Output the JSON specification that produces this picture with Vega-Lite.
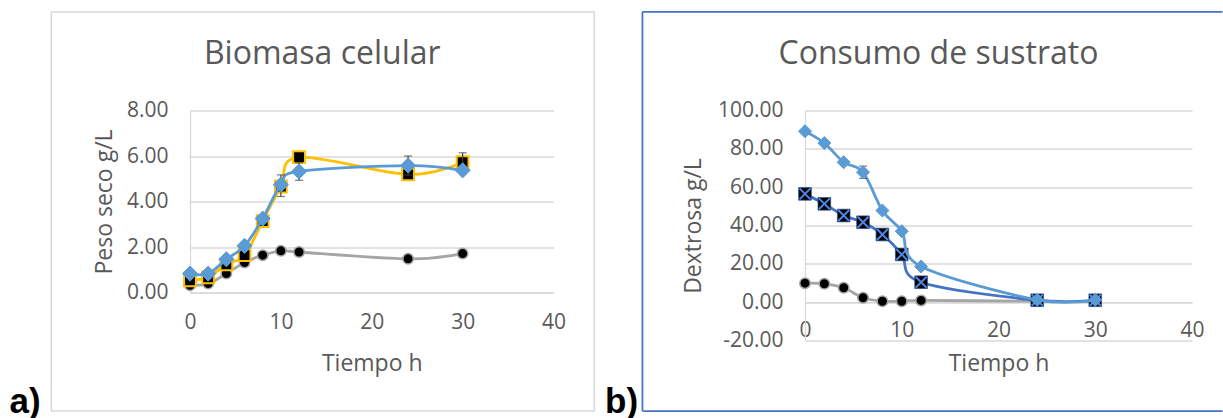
{
  "$schema": "https://vega.github.io/schema/vega-lite/v6.json",
  "background": "white",
  "padding": {"left": 9, "top": 10.5, "right": 0, "bottom": 0},
  "bounds": "flush",
  "spacing": 251,
  "config": {
    "view": {"stroke": null},
    "axis": {
      "labelFont": "Open Sans", "labelFontSize": 21, "labelColor": "#595959",
      "titleFont": "Open Sans", "titleFontSize": 23, "titleFontWeight": "normal", "titleColor": "#595959",
      "ticks": false,
      "domainColor": "#D9D9D9", "domainWidth": 1.3,
      "gridColor": "#D9D9D9", "gridWidth": 1.3,
      "labelFlush": false, "labelOverlap": false
    },
    "title": {"font": "Open Sans", "fontSize": 32, "fontWeight": "normal", "color": "#595959"}
  },
  "datasets": {
    "bio": [
      {"t": 0, "s": "S1", "v": 0.32}, {"t": 2, "s": "S1", "v": 0.39}, {"t": 4, "s": "S1", "v": 0.83},
      {"t": 6, "s": "S1", "v": 1.32}, {"t": 8, "s": "S1", "v": 1.64}, {"t": 10, "s": "S1", "v": 1.83},
      {"t": 12, "s": "S1", "v": 1.78}, {"t": 24, "s": "S1", "v": 1.48}, {"t": 30, "s": "S1", "v": 1.71},
      {"t": 0, "s": "S2", "v": 0.54}, {"t": 2, "s": "S2", "v": 0.67}, {"t": 4, "s": "S2", "v": 1.24},
      {"t": 6, "s": "S2", "v": 1.64}, {"t": 8, "s": "S2", "v": 3.14}, {"t": 10, "s": "S2", "v": 4.66},
      {"t": 12, "s": "S2", "v": 5.95}, {"t": 24, "s": "S2", "v": 5.19}, {"t": 30, "s": "S2", "v": 5.73},
      {"t": 0, "s": "S3", "v": 0.83}, {"t": 2, "s": "S3", "v": 0.83}, {"t": 4, "s": "S3", "v": 1.46},
      {"t": 6, "s": "S3", "v": 2.05}, {"t": 8, "s": "S3", "v": 3.25}, {"t": 10, "s": "S3", "v": 4.74},
      {"t": 12, "s": "S3", "v": 5.32}, {"t": 24, "s": "S3", "v": 5.58}, {"t": 30, "s": "S3", "v": 5.37}
    ],
    "bioerr": [
      {"t": 10, "s": "S2", "lo": 4.22, "hi": 5.17},
      {"t": 12, "s": "S3", "lo": 4.93, "hi": 5.71},
      {"t": 24, "s": "S3", "lo": 5.16, "hi": 6.0},
      {"t": 30, "s": "S2", "lo": 5.32, "hi": 6.14}
    ],
    "sus": [
      {"t": 0, "s": "G", "v": 9.9}, {"t": 2, "s": "G", "v": 9.6}, {"t": 4, "s": "G", "v": 7.5},
      {"t": 6, "s": "G", "v": 2.3}, {"t": 8, "s": "G", "v": 0.5}, {"t": 10, "s": "G", "v": 0.5},
      {"t": 12, "s": "G", "v": 0.9}, {"t": 24, "s": "G", "v": 0.5},
      {"t": 0, "s": "D", "v": 56.5}, {"t": 2, "s": "D", "v": 51.3}, {"t": 4, "s": "D", "v": 45.2},
      {"t": 6, "s": "D", "v": 41.7}, {"t": 8, "s": "D", "v": 35.3}, {"t": 10, "s": "D", "v": 24.9},
      {"t": 12, "s": "D", "v": 10.4}, {"t": 24, "s": "D", "v": 1.0}, {"t": 30, "s": "D", "v": 1.0},
      {"t": 0, "s": "L", "v": 89.2}, {"t": 2, "s": "L", "v": 83.0}, {"t": 4, "s": "L", "v": 73.0},
      {"t": 6, "s": "L", "v": 67.8}, {"t": 8, "s": "L", "v": 47.8}, {"t": 10, "s": "L", "v": 37.0},
      {"t": 12, "s": "L", "v": 18.6}, {"t": 24, "s": "L", "v": 1.2}, {"t": 30, "s": "L", "v": 1.2}
    ],
    "suserr": [
      {"t": 6, "s": "L", "lo": 64.6, "hi": 71.0}
    ]
  },
  "hconcat": [
    {
      "width": 363.5,
      "height": 182,
      "title": {"text": "Biomasa celular", "anchor": "middle", "frame": "group", "dx": -49.5, "baseline": "alphabetic", "offset": -85},
      "data": {"name": "bio"},
      "layer": [
        {
          "data": {"values": [{"k": 1}]},
          "mark": {"type": "rect", "fill": "transparent", "stroke": "#D9D9D9", "strokeWidth": 1.5, "clip": false},
          "encoding": {
            "x": {"datum": -15.26, "type": "quantitative", "scale": {"domain": [0, 40], "nice": false, "zero": false}},
            "x2": {"datum": 44.48},
            "y": {"datum": 12.33, "type": "quantitative", "scale": {"domain": [0, 8], "nice": false, "zero": false}},
            "y2": {"datum": -5.21}
          }
        },
        {
          "data": {"values": [{"k": 1}]},
          "mark": {"type": "text", "text": "a)", "font": "Liberation Sans", "fontWeight": "bold", "fontSize": 35, "align": "left", "baseline": "alphabetic", "color": "black", "clip": false},
          "encoding": {
            "x": {"datum": -19.86, "type": "quantitative"},
            "y": {"datum": -5.3, "type": "quantitative"}
          }
        },
        {
          "transform": [{"filter": "datum.s === 'S1'"}],
          "mark": {"type": "line", "interpolate": "cardinal", "color": "#A5A5A5", "strokeWidth": 2.8},
          "encoding": {
            "x": {"field": "t", "type": "quantitative", "scale": {"domain": [0, 40], "nice": false, "zero": false},
                  "axis": {"values": [0, 10, 20, 30, 40], "tickCount": 10, "title": "Tiempo h", "grid": false, "labelPadding": 19, "titlePadding": 20, "labelOverlap": false}},
            "y": {"field": "v", "type": "quantitative", "scale": {"domain": [0, 8], "nice": false, "zero": false},
                  "axis": {"values": [0, 2, 4, 6, 8], "tickCount": 10, "format": ".2f", "title": "Peso seco g/L", "grid": true, "labelPadding": 22, "titlePadding": 10, "labelOverlap": false}}
          }
        },
        {
          "transform": [{"filter": "datum.s === 'S1'"}],
          "mark": {"type": "point", "shape": "circle", "filled": true, "fill": "black", "stroke": "#A5A5A5", "strokeWidth": 1.5, "size": 110, "opacity": 1},
          "encoding": {"x": {"field": "t", "type": "quantitative"}, "y": {"field": "v", "type": "quantitative"}}
        },
        {
          "transform": [{"filter": "datum.s === 'S2'"}],
          "mark": {"type": "line", "interpolate": "cardinal", "color": "#FFC000", "strokeWidth": 2.8},
          "encoding": {"x": {"field": "t", "type": "quantitative"}, "y": {"field": "v", "type": "quantitative"}}
        },
        {
          "transform": [{"filter": "datum.s === 'S2'"}],
          "mark": {"type": "point", "shape": "square", "filled": true, "fill": "black", "stroke": "#FFC000", "strokeWidth": 2, "size": 140, "opacity": 1},
          "encoding": {"x": {"field": "t", "type": "quantitative"}, "y": {"field": "v", "type": "quantitative"}}
        },
        {
          "transform": [{"filter": "datum.s === 'S3'"}],
          "mark": {"type": "line", "interpolate": "cardinal", "color": "#5B9BD5", "strokeWidth": 2.8},
          "encoding": {"x": {"field": "t", "type": "quantitative"}, "y": {"field": "v", "type": "quantitative"}}
        },
        {
          "data": {"name": "bioerr"},
          "mark": {"type": "errorbar", "ticks": true, "color": "#404040", "thickness": 1.2, "size": 8},
          "encoding": {
            "x": {"field": "t", "type": "quantitative"},
            "y": {"field": "lo", "type": "quantitative", "title": "Peso seco g/L"},
            "y2": {"field": "hi"}
          }
        },
        {
          "transform": [{"filter": "datum.s === 'S3'"}],
          "mark": {"type": "point", "shape": "diamond", "filled": true, "fill": "#5B9BD5", "stroke": "#5B9BD5", "strokeWidth": 1, "size": 230, "opacity": 1},
          "encoding": {"x": {"field": "t", "type": "quantitative"}, "y": {"field": "v", "type": "quantitative"}}
        }
      ]
    },
    {
      "width": 387,
      "height": 230,
      "title": {"text": "Consumo de sustrato", "anchor": "middle", "frame": "group", "dx": -60, "baseline": "alphabetic", "offset": -85},
      "data": {"name": "sus"},
      "layer": [
        {
          "data": {"values": [{"k": 1}]},
          "mark": {"type": "rule", "stroke": "#4472C4", "strokeWidth": 1.75, "clip": false},
          "encoding": {
            "x": {"datum": -16.8, "type": "quantitative", "scale": {"domain": [0, 40], "nice": false, "zero": false}},
            "x2": {"datum": 43.15},
            "y": {"datum": 151.4, "type": "quantitative", "scale": {"domain": [-20, 100], "nice": false, "zero": false}}
          }
        },
        {
          "data": {"values": [{"k": 1}]},
          "mark": {"type": "rule", "stroke": "#4472C4", "strokeWidth": 1.75, "clip": false},
          "encoding": {
            "x": {"datum": -16.8, "type": "quantitative"},
            "x2": {"datum": 43.15},
            "y": {"datum": -56.8, "type": "quantitative"}
          }
        },
        {
          "data": {"values": [{"k": 1}]},
          "mark": {"type": "rule", "stroke": "#4472C4", "strokeWidth": 1.75, "clip": false},
          "encoding": {
            "x": {"datum": -16.8, "type": "quantitative"},
            "y": {"datum": -56.8, "type": "quantitative"},
            "y2": {"datum": 151.4}
          }
        },
        {
          "data": {"values": [{"k": 1}]},
          "mark": {"type": "text", "text": "b)", "font": "Liberation Sans", "fontWeight": "bold", "fontSize": 35, "align": "left", "baseline": "alphabetic", "color": "black", "clip": false},
          "encoding": {
            "x": {"datum": -20.67, "type": "quantitative"},
            "y": {"datum": -58.0, "type": "quantitative"}
          }
        },
        {
          "transform": [{"filter": "datum.s === 'G'"}],
          "mark": {"type": "line", "interpolate": "cardinal", "color": "#A5A5A5", "strokeWidth": 2.8},
          "encoding": {
            "x": {"field": "t", "type": "quantitative", "scale": {"domain": [0, 40], "nice": false, "zero": false},
                  "axis": {"values": [0, 10, 20, 30, 40], "tickCount": 10, "title": "Tiempo h", "grid": false, "offset": -38.33, "labelPadding": 17, "titlePadding": 12, "labelOverlap": false}},
            "y": {"field": "v", "type": "quantitative", "scale": {"domain": [-20, 100], "nice": false, "zero": false},
                  "axis": {"values": [-20, 0, 20, 40, 60, 80, 100], "tickCount": 12, "labelExpr": "replace(format(datum.value, '.2f'), '\u2212', '-')", "title": "Dextrosa g/L", "grid": true, "labelPadding": 22, "titlePadding": 12, "labelOverlap": false}}
          }
        },
        {
          "transform": [{"filter": "datum.s === 'G'"}],
          "mark": {"type": "point", "shape": "circle", "filled": true, "fill": "black", "stroke": "#A5A5A5", "strokeWidth": 1.5, "size": 110, "opacity": 1},
          "encoding": {"x": {"field": "t", "type": "quantitative"}, "y": {"field": "v", "type": "quantitative"}}
        },
        {
          "transform": [{"filter": "datum.s === 'D'"}],
          "mark": {"type": "line", "interpolate": "cardinal", "color": "#4472C4", "strokeWidth": 2.8},
          "encoding": {"x": {"field": "t", "type": "quantitative"}, "y": {"field": "v", "type": "quantitative"}}
        },
        {
          "transform": [{"filter": "datum.s === 'D'"}],
          "mark": {"type": "point", "shape": "square", "filled": true, "fill": "black", "stroke": "#2F528F", "strokeWidth": 0.75, "size": 160, "opacity": 1},
          "encoding": {"x": {"field": "t", "type": "quantitative"}, "y": {"field": "v", "type": "quantitative"}}
        },
        {
          "transform": [{"filter": "datum.s === 'D'"}],
          "mark": {"type": "point", "shape": "M -1 -1 L 1 1 M -1 1 L 1 -1", "filled": false, "stroke": "#4A86E8", "strokeWidth": 2, "size": 120, "opacity": 1},
          "encoding": {"x": {"field": "t", "type": "quantitative"}, "y": {"field": "v", "type": "quantitative"}}
        },
        {
          "transform": [{"filter": "datum.s === 'L'"}],
          "mark": {"type": "line", "interpolate": "cardinal", "color": "#5B9BD5", "strokeWidth": 2.8},
          "encoding": {"x": {"field": "t", "type": "quantitative"}, "y": {"field": "v", "type": "quantitative"}}
        },
        {
          "data": {"name": "suserr"},
          "mark": {"type": "errorbar", "ticks": true, "color": "#404040", "thickness": 1.2, "size": 8},
          "encoding": {
            "x": {"field": "t", "type": "quantitative"},
            "y": {"field": "lo", "type": "quantitative", "title": "Dextrosa g/L"},
            "y2": {"field": "hi"}
          }
        },
        {
          "transform": [{"filter": "datum.s === 'L'"}],
          "mark": {"type": "point", "shape": "diamond", "filled": true, "fill": "#5B9BD5", "stroke": "#5B9BD5", "strokeWidth": 1, "size": 170, "opacity": 1},
          "encoding": {"x": {"field": "t", "type": "quantitative"}, "y": {"field": "v", "type": "quantitative"}}
        }
      ]
    }
  ]
}
